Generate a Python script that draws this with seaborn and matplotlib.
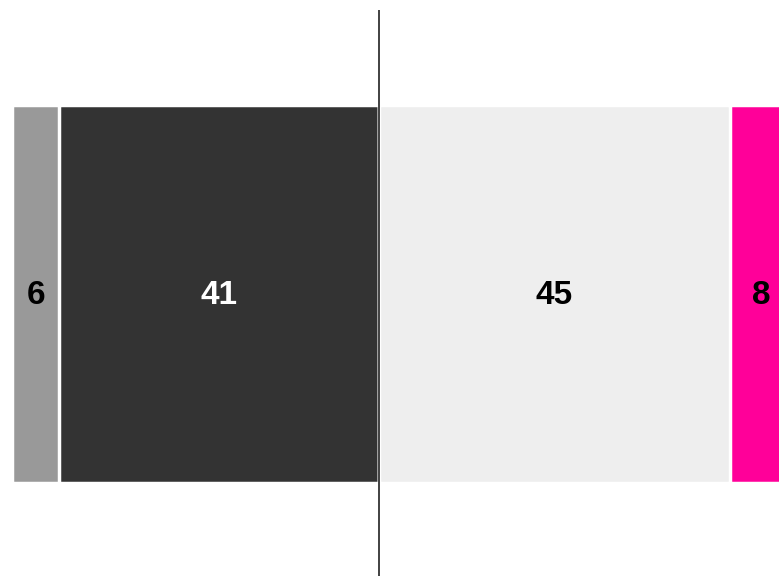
import matplotlib
matplotlib.use("Agg")
import matplotlib.pyplot as plt
import seaborn as sns
import pandas as pd

# segments, left side is negative, right side positive
labels = ["6", "41", "45", "8"]
values = [6, 41, 45, 8]
colors = ["#999999", "#333333", "#eeeeee", "#ff0099"]
text_colors = ["black", "white", "black", "black"]

sns.set_style("white")
plt.rcParams['font.family'] = ['Liberation Sans', 'DejaVu Sans']

fig = plt.figure(figsize=(7.79, 5.76), dpi=100)
ax = fig.add_axes([0, 0, 1, 1])

# cumulative ends of each segment away from zero
left_vals = values[:2][::-1]   # from center outward: 41, 6
right_vals = values[2:]        # 45, 8
left_cum = [-sum(left_vals[:i + 1]) for i in range(len(left_vals))]
right_cum = [sum(right_vals[:i + 1]) for i in range(len(right_vals))]

# draw longest first, then shorter ones on top (stacking)
segs = [
    (left_cum[1], colors[0]),
    (left_cum[0], colors[1]),
    (right_cum[1], colors[3]),
    (right_cum[0], colors[2]),
]
for end, c in segs:
    df = pd.DataFrame({"val": [end], "cat": ["all"]})
    sns.barplot(data=df, x="val", y="cat", orient="h", color=c,
                width=0.81, edgecolor="white", linewidth=2.5,
                saturation=1, ax=ax)

# label positions at segment centers
starts = [left_cum[1], left_cum[0], 0, right_cum[0]]
ends = [left_cum[0], 0, right_cum[0], right_cum[1]]
for lab, s, e, tc in zip(labels, starts, ends, text_colors):
    ax.text((s + e) / 2, 0.004, lab, ha="center", va="center",
            fontsize=24, fontweight="bold", color=tc)

ax.vlines(0, -0.607, 0.7, color="#333333", linewidth=1.3, zorder=5)

ax.set_xlim(-48.6, 51.3)
ax.set_ylim(0.603, -0.629)
ax.axis("off")

fig.savefig("out.png", dpi=100)
